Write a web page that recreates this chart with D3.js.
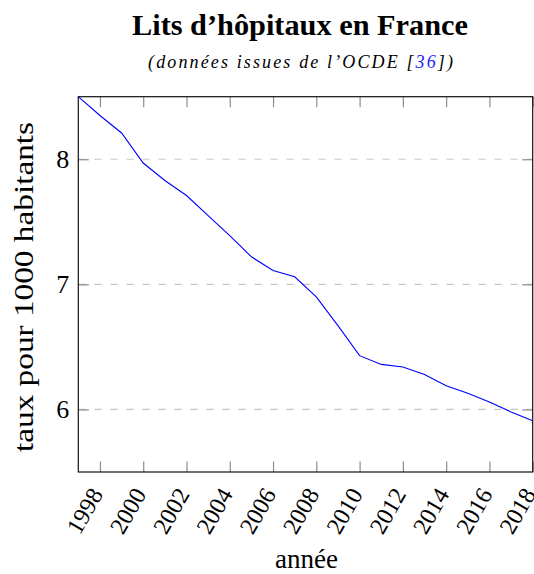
<html>
<head>
<script src="https://cdnjs.cloudflare.com/ajax/libs/d3/7.8.5/d3.min.js"></script>
  <meta charset="utf-8">
  <title>Lits d'hôpitaux en France</title>
  <style>
    body { margin: 0; background: #fff; }
  </style>
</head>
<body>
	<script type="text/javascript">

		// size of the picture
		var w = 534;
		var h = 574;
		var padLeft = 78.3, padRight = 532.7, padTop = 96.7, padBottom = 472;
		var tickLen = 10.5;
		var serif = "'Liberation Serif', 'Times New Roman', serif";

		// data (OCDE, lits pour 1000 habitants)
		var years = [1997, 1998, 1999, 2000, 2001, 2002, 2003, 2004, 2005, 2006, 2007,
			2008, 2009, 2010, 2011, 2012, 2013, 2014, 2015, 2016, 2017, 2018];
		var beds = [8.50, 8.35, 8.21, 7.97, 7.83, 7.71, 7.55, 7.39, 7.22, 7.11, 7.06,
			6.90, 6.67, 6.43, 6.36, 6.34, 6.28, 6.19, 6.13, 6.06, 5.98, 5.91];
		var xTicks = [1998, 2000, 2002, 2004, 2006, 2008, 2010, 2012, 2014, 2016, 2018];
		var yTicks = [6, 7, 8];

		var x = d3.scaleLinear().domain([1997, 2018]).range([padLeft, padRight]);
		var y = d3.scaleLinear().domain([5.5, 8.5]).range([padBottom, padTop]);

		var svg = d3.select("body")
					.append("svg")
					.attr("width", w)
					.attr("height", h);

		svg.append("rect").attr("width", w).attr("height", h).attr("fill", "#fff");

		// dashed grid
		svg.selectAll("line.grid")
			.data(yTicks)
			.enter()
			.append("line")
			.attr("class", "grid")
			.attr("x1", padLeft).attr("x2", padRight)
			.attr("y1", function(d) { return y(d); })
			.attr("y2", function(d) { return y(d); })
			.attr("stroke", "#c8c8c8")
			.attr("stroke-width", 1.2)
			.attr("stroke-dasharray", "7.5,8.5");

		// axes, ticks pointing inwards
		var xAxis = d3.axisBottom(x).tickValues(xTicks).tickSize(-tickLen).tickFormat(d3.format("d"));
		var xTop = d3.axisTop(x).tickValues(xTicks).tickSize(-tickLen).tickFormat("");
		var yAxis = d3.axisLeft(y).tickValues(yTicks).tickSize(-tickLen).tickPadding(9).tickFormat(d3.format("d"));
		var yRight = d3.axisRight(y).tickValues(yTicks).tickSize(-tickLen).tickFormat("");

		var gx = svg.append("g").attr("transform", "translate(0," + padBottom + ")").call(xAxis);
		svg.append("g").attr("transform", "translate(0," + padTop + ")").call(xTop);
		var gy = svg.append("g").attr("transform", "translate(" + padLeft + ",0)").call(yAxis);
		svg.append("g").attr("transform", "translate(" + padRight + ",0)").call(yRight);

		svg.selectAll(".domain").remove();
		svg.selectAll(".tick line").attr("stroke", "#8c8c8c").attr("stroke-width", 1.2);

		gx.selectAll("text")
			.attr("font-family", serif)
			.attr("font-size", "24px")
			.attr("fill", "#000")
			.attr("text-anchor", "end")
			.attr("y", null)
			.attr("dy", "0.35em")
			.attr("transform", "translate(-4,18) rotate(-60)");

		gy.selectAll("text")
			.attr("font-family", serif)
			.attr("font-size", "26px")
			.attr("fill", "#000");

		// the series
		var line = d3.line()
			.x(function(d, i) { return x(years[i]); })
			.y(function(d) { return y(d); });

		svg.append("path")
			.datum(beds)
			.attr("d", line)
			.attr("fill", "none")
			.attr("stroke", "#0000ff")
			.attr("stroke-width", 1.1);

		// frame
		svg.append("rect")
			.attr("x", padLeft).attr("y", padTop)
			.attr("width", padRight - padLeft).attr("height", padBottom - padTop)
			.attr("fill", "none")
			.attr("stroke", "#111")
			.attr("stroke-width", 1.2);

		// titles
		svg.append("text")
			.text("Lits d’hôpitaux en France")
			.attr("x", 300).attr("y", 35)
			.attr("font-family", serif)
			.attr("font-size", "30px")
			.attr("font-weight", "bold")
			.attr("text-anchor", "middle")
			.attr("textLength", 336)
			.attr("lengthAdjust", "spacingAndGlyphs");

		var sub = svg.append("text")
			.attr("x", 300.5).attr("y", 68)
			.attr("font-family", serif)
			.attr("font-size", "18px")
			.attr("font-style", "italic")
			.attr("text-anchor", "middle")
			.attr("textLength", 305)
			.attr("lengthAdjust", "spacing");
		sub.append("tspan").text("(données issues de l’OCDE [");
		sub.append("tspan").attr("fill", "#2222ff").text("36");
		sub.append("tspan").text("])");

		svg.append("text")
			.text("année")
			.attr("x", 306.5).attr("y", 568)
			.attr("font-family", serif)
			.attr("font-size", "27px")
			.attr("text-anchor", "middle");

		svg.append("text")
			.text("taux pour 1000 habitants")
			.attr("transform", "translate(33,287) rotate(-90)")
			.attr("font-family", serif)
			.attr("font-size", "28px")
			.attr("text-anchor", "middle")
			.attr("textLength", 330)
			.attr("lengthAdjust", "spacingAndGlyphs");
	</script>
</body>
</html>
